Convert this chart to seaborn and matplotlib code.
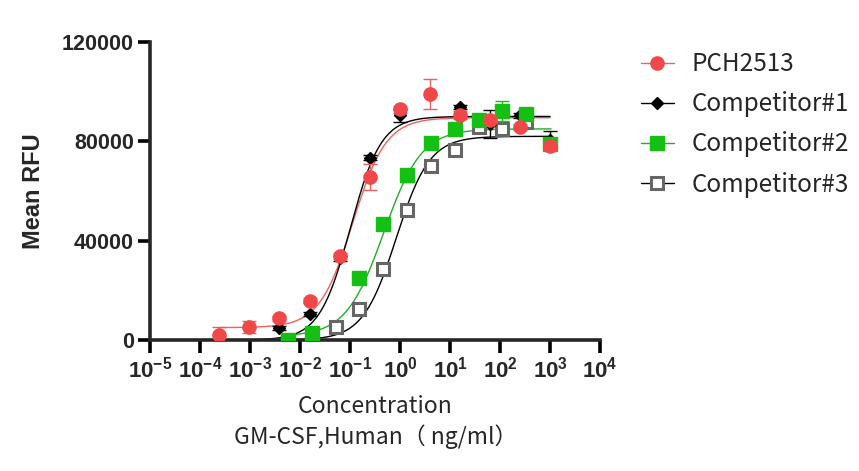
import numpy as np
import pandas as pd
import matplotlib
matplotlib.use("Agg")
import matplotlib.pyplot as plt
import seaborn as sns
from matplotlib.lines import Line2D

# ------------------------------------------
# Data
# ------------------------------------------
# PCH2513 and Competitor#1: 4-fold dilutions from 1000 ng/ml
pch_x = [1000, 250, 62.5, 15.6, 3.91, 0.977, 0.244, 0.061, 0.0153, 0.00381, 0.000954, 0.000238]
pch_y = [78000, 85800, 88700, 90500, 99200, 92900, 65700, 33800, 15800, 8700, 5400, 2000]
pch_err = [1500, 1200, 1500, 1500, 6000, 1500, 5200, 1200, 1000, 1000, 2400, 3300]

c1_x = [1000, 250, 62.5, 15.6, 0.977, 0.244, 0.061, 0.0153, 0.00381]
c1_y = [80400, 90500, 87000, 93800, 90500, 73400, 33000, 10400, 4700]
c1_err = [3700, 1000, 5500, 1000, 2700, 1000, 1000, 800, 800]

# Competitor#2 and #3: 3-fold dilutions from 1000 ng/ml
c2_x = [1000, 333, 111, 37.0, 12.3, 4.12, 1.37, 0.457, 0.152, 0.0169, 0.00565]
c2_y = [79000, 91100, 92200, 88400, 85100, 79300, 66300, 46900, 24800, 2950, 0]
c2_err = [1500, 1200, 4000, 1200, 1000, 1200, 2700, 1000, 1000, 800, 800]

c3_x = [333, 111, 37.0, 12.3, 4.12, 1.37, 0.457, 0.152, 0.0508]
c3_y = [87800, 85100, 85800, 76400, 69900, 52300, 28800, 12700, 5400]

# 4PL fit parameters: bottom, top, logEC50, hill, log-range of the curve
fits = {
    "PCH2513": (5000, 89500, -0.95, 1.3, -3.62, 3.0),
    "Competitor#1": (0, 90000, -1.0, 1.4, -3.62, 3.0),
    "Competitor#2": (1500, 85000, -0.33, 1.15, -2.25, 3.02),
    "Competitor#3": (0, 82000, -0.08, 1.3, -2.25, 3.02),
}

red = "#F04848"
green = "#14C014"
gray = "#666666"
line_colors = {"PCH2513": "#F06060", "Competitor#1": "black",
               "Competitor#2": "#20B020", "Competitor#3": "black"}

rows = []
for name, (bot, top, ec, hill, lo, hi) in fits.items():
    lx = np.linspace(lo, hi, 400)
    yy = bot + (top - bot) / (1 + 10 ** ((ec - lx) * hill))
    rows.append(pd.DataFrame({"x": 10 ** lx, "y": yy, "series": name}))
curves = pd.concat(rows)

# ------------------------------------------
# Plot
# ------------------------------------------
sns.set_style("ticks")
plt.rcParams["font.family"] = ["Liberation Sans", "DejaVu Sans"]
plt.rcParams["mathtext.fontset"] = "custom"
plt.rcParams["mathtext.rm"] = "Liberation Sans:bold"
plt.rcParams["mathtext.default"] = "rm"

fig = plt.figure(figsize=(8.59, 4.71), dpi=100)
ax = fig.add_axes([0.1752, 0.278, 0.5233, 0.633])

sns.lineplot(data=curves, x="x", y="y", hue="series", palette=line_colors,
             linewidth=1.0, legend=False, ax=ax, zorder=2)

# gray open squares (bottom)
ax.errorbar(c3_x, c3_y, fmt="s", ms=9, mfc="white", mec=gray, mew=2.2,
            color=gray, zorder=3)
# black diamonds
ax.errorbar(c1_x, c1_y, yerr=c1_err, fmt="D", ms=6.5, color="black",
            ecolor="black", elinewidth=1.0, capsize=5, capthick=1.0, zorder=4)
# green squares
ax.errorbar(c2_x, c2_y, yerr=c2_err, fmt="s", ms=9.5, color=green,
            ecolor=green, elinewidth=1.0, capsize=5, capthick=1.0, zorder=5)
# red circles (top)
ax.errorbar(pch_x, pch_y, yerr=pch_err, fmt="o", ms=9.5, color=red,
            ecolor="#E86060", elinewidth=1.0, capsize=5, capthick=1.0, zorder=6)

ax.set_xscale("log")
ax.set_xlim(1e-5, 1e4)
ax.set_ylim(0, 120000)
ax.set_xticks([10.0 ** k for k in range(-5, 5)])
ax.set_xticklabels([r"$10^{%d}$" % k for k in range(-5, 5)], fontsize=16)
ax.minorticks_off()
ax.set_yticks([0, 40000, 80000, 120000])
ax.set_yticklabels(["0", "40000", "80000", "120000"], fontsize=15.5,
                   fontweight="bold")

for s in ["top", "right"]:
    ax.spines[s].set_visible(False)
for s in ["left", "bottom"]:
    ax.spines[s].set_linewidth(2.6)
ax.tick_params(axis="both", width=2.6, length=9, color="black", pad=3)

ax.set_ylabel("Mean RFU", fontsize=17, fontweight="bold", labelpad=12)
ax.set_xlabel("Concentration\nGM-CSF,Human（ ng/ml）", fontsize=16.5,
              family=["Noto Sans CJK SC", "DejaVu Sans"], labelpad=9,
              linespacing=1.3)

handles = [
    Line2D([], [], color="#F06060", marker="o", ms=9.5, mfc=red, mec=red, lw=1),
    Line2D([], [], color="black", marker="D", ms=6.5, lw=1),
    Line2D([], [], color="#20B020", marker="s", ms=9.5, mfc=green, mec=green, lw=1),
    Line2D([], [], color="black", marker="s", ms=9, mfc="white", mec=gray,
           mew=2.2, lw=1),
]
labels = ["PCH2513", "Competitor#1", "Competitor#2", "Competitor#3"]
fig.legend(handles, labels, loc="upper left", bbox_to_anchor=(0.732, 0.917),
           frameon=False, borderpad=0, handlelength=1.35, handletextpad=0.75,
           labelspacing=0.58, prop={"family": ["Noto Sans CJK SC", "DejaVu Sans"],
                                    "size": 17.5})

fig.savefig("out.png", dpi=100)
